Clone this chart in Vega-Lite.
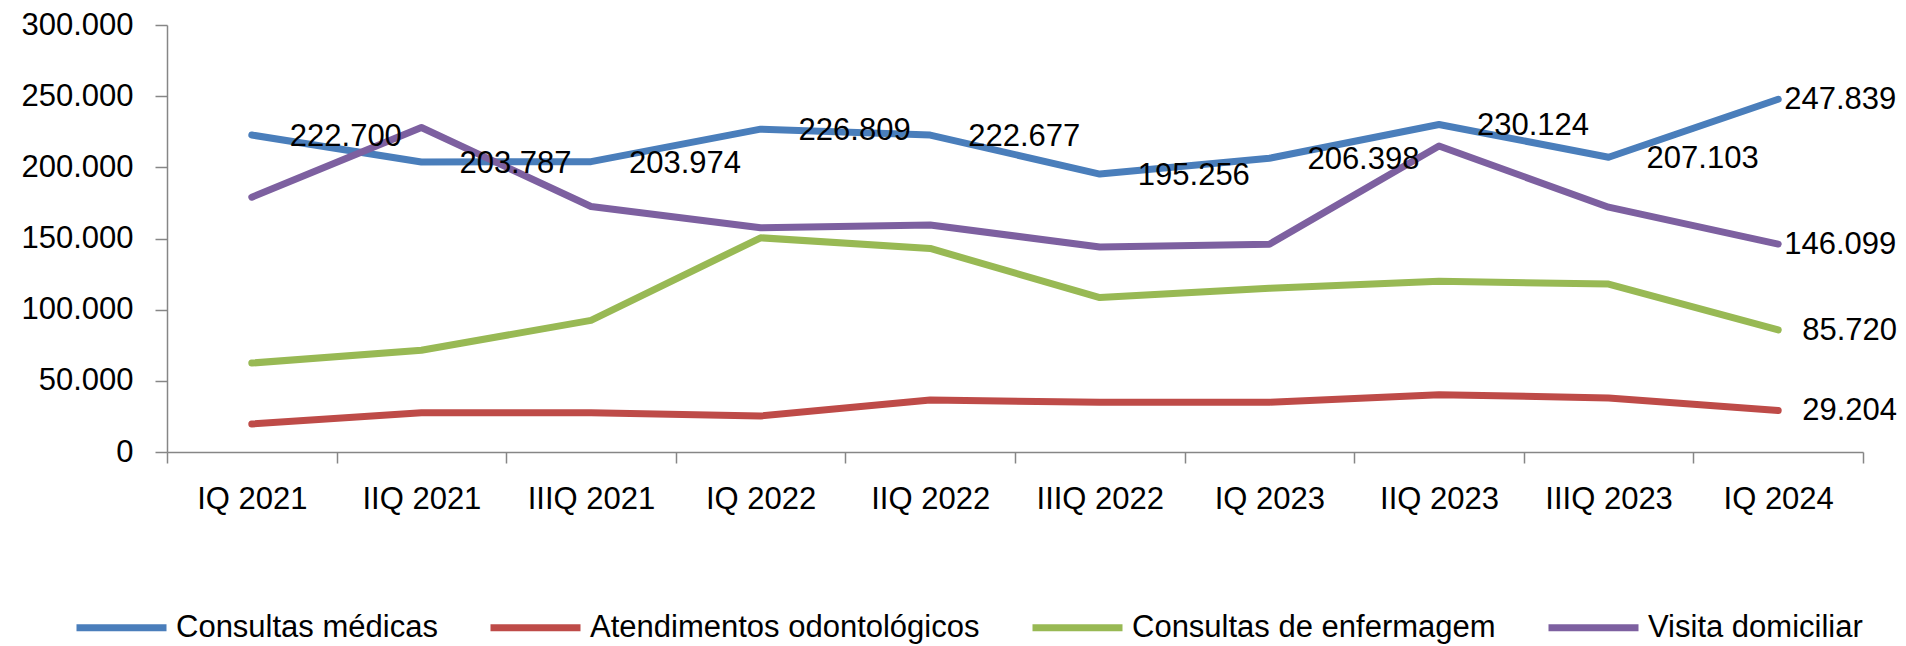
{
  "$schema": "https://vega.github.io/schema/vega-lite/v6.json",
  "width": 1696,
  "height": 427,
  "autosize": {"type": "none"},
  "padding": {"left": 167, "top": 25, "right": 43, "bottom": 194},
  "background": "white",
  "config": {
    "locale": {"number": {"decimal": ",", "thousands": ".", "grouping": [3], "currency": ["R$", ""]}},
    "view": {"stroke": null},
    "font": "Liberation Sans",
    "text": {"font": "Liberation Sans"},
    "axis": {
      "labelFont": "Liberation Sans",
      "labelFontSize": 31,
      "labelColor": "#000000",
      "domainColor": "#868686",
      "domainWidth": 1.5,
      "tickColor": "#868686",
      "tickWidth": 1.5,
      "grid": false,
      "title": null
    },
    "legend": {"labelFont": "Liberation Sans"}
  },
  "data": {
    "values": [
      {"trimestre": "IQ 2021", "serie": "Consultas médicas", "valor": 222700},
      {"trimestre": "IIQ 2021", "serie": "Consultas médicas", "valor": 203787},
      {"trimestre": "IIIQ 2021", "serie": "Consultas médicas", "valor": 203974},
      {"trimestre": "IQ 2022", "serie": "Consultas médicas", "valor": 226809},
      {"trimestre": "IIQ 2022", "serie": "Consultas médicas", "valor": 222677},
      {"trimestre": "IIIQ 2022", "serie": "Consultas médicas", "valor": 195256},
      {"trimestre": "IQ 2023", "serie": "Consultas médicas", "valor": 206398},
      {"trimestre": "IIQ 2023", "serie": "Consultas médicas", "valor": 230124},
      {"trimestre": "IIIQ 2023", "serie": "Consultas médicas", "valor": 207103},
      {"trimestre": "IQ 2024", "serie": "Consultas médicas", "valor": 247839},
      {"trimestre": "IQ 2021", "serie": "Atendimentos odontológicos", "valor": 19700},
      {"trimestre": "IIQ 2021", "serie": "Atendimentos odontológicos", "valor": 27500},
      {"trimestre": "IIIQ 2021", "serie": "Atendimentos odontológicos", "valor": 27500},
      {"trimestre": "IQ 2022", "serie": "Atendimentos odontológicos", "valor": 25300},
      {"trimestre": "IIQ 2022", "serie": "Atendimentos odontológicos", "valor": 36500},
      {"trimestre": "IIIQ 2022", "serie": "Atendimentos odontológicos", "valor": 35000},
      {"trimestre": "IQ 2023", "serie": "Atendimentos odontológicos", "valor": 35000},
      {"trimestre": "IIQ 2023", "serie": "Atendimentos odontológicos", "valor": 40300},
      {"trimestre": "IIIQ 2023", "serie": "Atendimentos odontológicos", "valor": 38000},
      {"trimestre": "IQ 2024", "serie": "Atendimentos odontológicos", "valor": 29204},
      {"trimestre": "IQ 2021", "serie": "Consultas de enfermagem", "valor": 62500},
      {"trimestre": "IIQ 2021", "serie": "Consultas de enfermagem", "valor": 71500},
      {"trimestre": "IIIQ 2021", "serie": "Consultas de enfermagem", "valor": 92500},
      {"trimestre": "IQ 2022", "serie": "Consultas de enfermagem", "valor": 150500},
      {"trimestre": "IIQ 2022", "serie": "Consultas de enfermagem", "valor": 143000},
      {"trimestre": "IIIQ 2022", "serie": "Consultas de enfermagem", "valor": 108500},
      {"trimestre": "IQ 2023", "serie": "Consultas de enfermagem", "valor": 115000},
      {"trimestre": "IIQ 2023", "serie": "Consultas de enfermagem", "valor": 120000},
      {"trimestre": "IIIQ 2023", "serie": "Consultas de enfermagem", "valor": 118000},
      {"trimestre": "IQ 2024", "serie": "Consultas de enfermagem", "valor": 85720},
      {"trimestre": "IQ 2021", "serie": "Visita domiciliar", "valor": 179000},
      {"trimestre": "IIQ 2021", "serie": "Visita domiciliar", "valor": 228000},
      {"trimestre": "IIIQ 2021", "serie": "Visita domiciliar", "valor": 172500},
      {"trimestre": "IQ 2022", "serie": "Visita domiciliar", "valor": 157500},
      {"trimestre": "IIQ 2022", "serie": "Visita domiciliar", "valor": 159500},
      {"trimestre": "IIIQ 2022", "serie": "Visita domiciliar", "valor": 144000},
      {"trimestre": "IQ 2023", "serie": "Visita domiciliar", "valor": 146000},
      {"trimestre": "IIQ 2023", "serie": "Visita domiciliar", "valor": 215000},
      {"trimestre": "IIIQ 2023", "serie": "Visita domiciliar", "valor": 172000},
      {"trimestre": "IQ 2024", "serie": "Visita domiciliar", "valor": 146099}
    ]
  },
  "encoding": {
    "x": {
      "field": "trimestre",
      "type": "nominal",
      "sort": null,
      "scale": {"type": "band", "paddingInner": 0, "paddingOuter": 0},
      "axis": {"labelAngle": 0, "tickBand": "extent", "tickSize": 11, "labelPadding": 21}
    },
    "y": {
      "field": "valor",
      "type": "quantitative",
      "scale": {"domain": [0, 300000], "nice": false},
      "axis": {"values": [0, 50000, 100000, 150000, 200000, 250000, 300000], "format": ",d", "tickSize": 12, "labelPadding": 22}
    }
  },
  "layer": [
    {
      "mark": {"type": "line", "strokeWidth": 7, "strokeCap": "round", "strokeJoin": "round"},
      "encoding": {
        "color": {
          "field": "serie",
          "type": "nominal",
          "scale": {
            "domain": ["Consultas médicas", "Atendimentos odontológicos", "Consultas de enfermagem", "Visita domiciliar"],
            "range": ["#4A7EBB", "#BE4B48", "#98B954", "#7D60A0"]
          },
          "legend": {
            "title": null,
            "orient": "none",
            "direction": "horizontal",
            "legendX": -94,
            "legendY": 554,
            "symbolType": "stroke",
            "symbolSize": 8100,
            "symbolStrokeWidth": 7,
            "labelFontSize": 31,
            "labelColor": "#000000",
            "labelOffset": 6,
            "columnPadding": 38,
            "labelLimit": 600
          }
        }
      }
    },
    {
      "transform": [{"filter": "datum.serie == 'Consultas médicas' && datum.trimestre != 'IQ 2024'"}],
      "mark": {"type": "text", "align": "left", "baseline": "middle", "dx": 38, "dy": 2, "fontSize": 31, "color": "#000000"},
      "encoding": {"text": {"field": "valor", "type": "quantitative", "format": ","}}
    },
    {
      "transform": [{"filter": "(datum.serie == 'Consultas médicas' || datum.serie == 'Visita domiciliar') && datum.trimestre == 'IQ 2024'"}],
      "mark": {"type": "text", "align": "left", "baseline": "middle", "dx": 6, "dy": 1, "fontSize": 31, "color": "#000000"},
      "encoding": {"text": {"field": "valor", "type": "quantitative", "format": ","}}
    },
    {
      "transform": [{"filter": "(datum.serie == 'Consultas de enfermagem' || datum.serie == 'Atendimentos odontológicos') && datum.trimestre == 'IQ 2024'"}],
      "mark": {"type": "text", "align": "left", "baseline": "middle", "dx": 24, "dy": 1, "fontSize": 31, "color": "#000000"},
      "encoding": {"text": {"field": "valor", "type": "quantitative", "format": ","}}
    }
  ]
}
